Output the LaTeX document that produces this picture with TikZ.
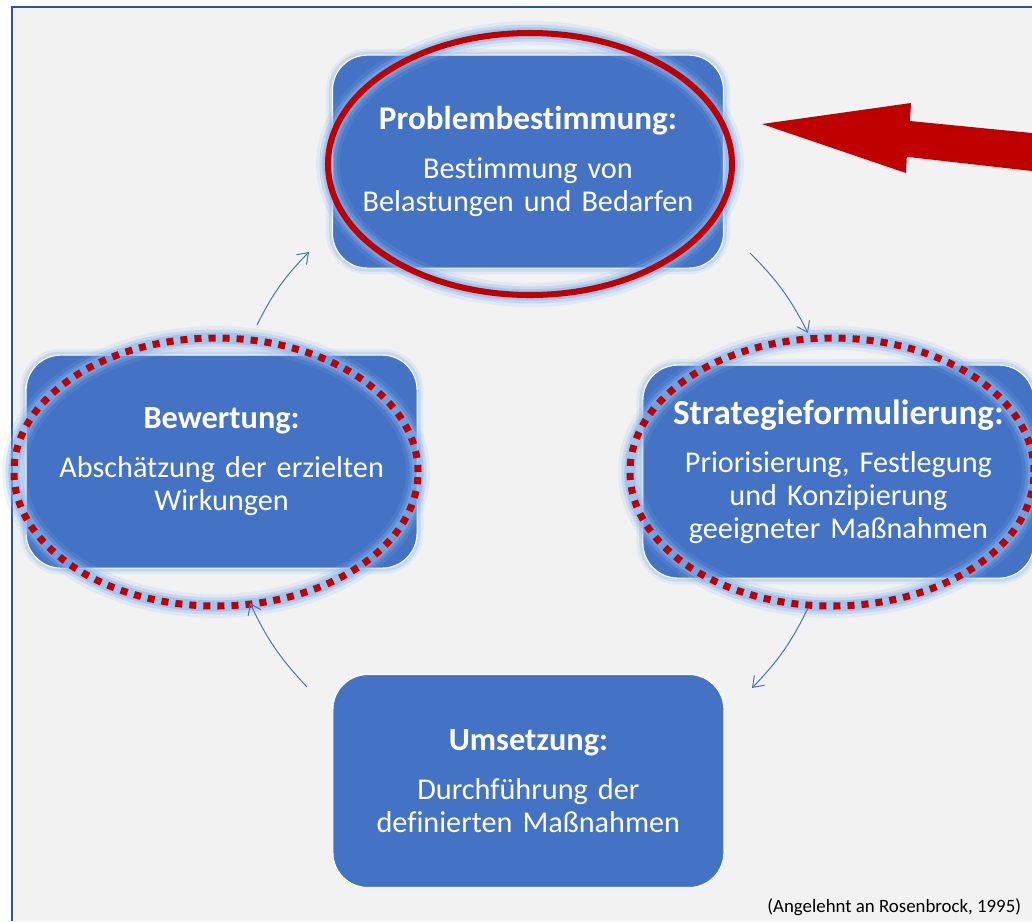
\documentclass[tikz,border=0pt]{standalone}
\usepackage{fontspec}
\setmainfont{Carlito}[Ligatures=NoCommon]
\usetikzlibrary{shapes.geometric,arrows.meta}

\definecolor{boxblue}{RGB}{68,114,196}
\definecolor{ringred}{RGB}{192,0,0}
\definecolor{glowblue}{RGB}{130,180,240}
\definecolor{paper}{RGB}{242,242,242}
\definecolor{frameblue}{RGB}{47,85,151}

\newcommand{\stagehead}[2][23]{{\fontsize{#1}{23.5}\selectfont\bfseries #2}\\[11pt]}

\tikzset{
  stage/.style={rectangle, rounded corners=0.875cm, fill=boxblue, draw=white, line width=0.8pt,
    minimum width=9.775cm, minimum height=5.325cm, text width=9.5cm, align=center,
    inner sep=0pt, text=white, font=\fontsize{21.5}{23.5}\selectfont},
  boxglow/.style={
    preaction={draw=glowblue, solid, line width=9pt, opacity=0.15},
    preaction={draw=glowblue, solid, line width=5pt, opacity=0.3}},
  ringglow/.style={
    preaction={draw=glowblue, solid, line width=17pt, opacity=0.15},
    preaction={draw=glowblue, solid, line width=12pt, opacity=0.3},
    preaction={draw=glowblue, solid, line width=8pt, opacity=0.5}},
  ring/.style={ellipse, draw=ringred, minimum width=10.1cm, minimum height=6.7cm, inner sep=0pt, ringglow},
  solidring/.style={ring, line width=4.3pt},
  dottedring/.style={ring, line width=5pt, dash pattern=on 5pt off 5pt},
  flow/.style={draw=boxblue, line width=0.7pt, -{Straight Barb[length=7pt,width=10pt]}},
}

\begin{document}
\begin{tikzpicture}
  \useasboundingbox (0,0) rectangle (25.80,-23.025);
  \fill[white] (0,0) rectangle (25.80,-23.025);
  \fill[paper] (0.30,-0.175) rectangle (25.80,-23.025);
  \draw[frameblue, line width=1.4pt] (0.30,-23.025) -- (0.30,-0.175) -- (25.80,-0.175);

  % the four stages
  \node[stage, boxglow] (problem) at (13.20,-4.04)
    {\stagehead[23.6]{Problembestimmung:}Bestimmung von\\Belastungen und Bedarfen};
  \node[stage, boxglow] (strategy) at (20.96,-11.79)
    {\stagehead[25]{Strategieformulierung:}Priorisierung, Festlegung\\und Konzipierung\\geeigneter Maßnahmen};
  \node[stage] (action) at (13.21,-19.525)
    {\stagehead{Umsetzung:}Durchführung der\\definierten Maßnahmen};
  \node[stage, boxglow] (review) at (5.54,-11.54)
    {\stagehead{Bewertung:}Abschätzung der erzielten\\Wirkungen};

  % rings around the stages
  \node[solidring, minimum height=6.55cm] (problemring) at (13.25,-4.10) {};
  \node[dottedring] (strategyring) at (20.80,-11.80) {};
  \node[dottedring] (reviewring) at (5.40,-11.80) {};

  % cycle arrows
  \coordinate (p1) at (18.75,-6.325);
  \coordinate (s0) at (20.20,-8.325);
  \coordinate (s1) at (20.20,-15.20);
  \coordinate (a0) at (18.80,-17.20);
  \coordinate (a1) at (7.675,-17.175);
  \coordinate (r0) at (6.25,-15.075);
  \coordinate (r1) at (6.425,-8.125);
  \coordinate (p0) at (7.725,-6.30);
  \draw[flow] (p1) to[bend left=9] (s0);
  \draw[flow] (s1) to[bend left=9] (a0);
  \draw[flow] (a1) to[bend left=9] (r0);
  \draw[flow] (r1) to[bend left=9] (p0);

  % pointer to the first stage
  \fill[ringred] (19.05,-3.10) -- (22.775,-2.575) -- (22.75,-3.025) -- (25.80,-3.325)
    -- (25.80,-4.275) -- (22.67,-3.92) -- (22.65,-4.325) -- cycle;

  \node[anchor=base east, font=\fontsize{13.4}{16}\selectfont] (source) at (25.65,-22.80)
    {(Angelehnt an Rosenbrock, 1995)};
\end{tikzpicture}
\end{document}
